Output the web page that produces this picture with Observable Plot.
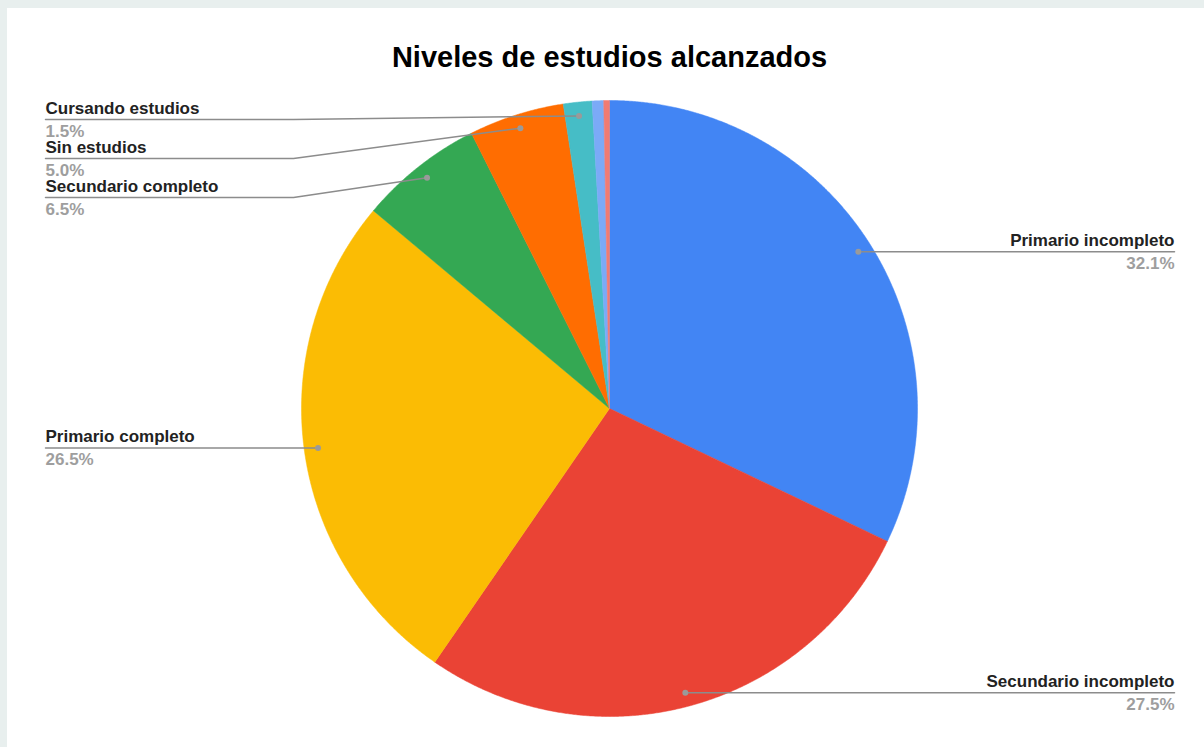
<!DOCTYPE html>
<html><head><meta charset="utf-8">
<script src="https://cdn.jsdelivr.net/npm/d3@7"></script>
<script src="https://cdn.jsdelivr.net/npm/@observablehq/plot@0.6"></script>
<style>
html,body{margin:0;padding:0;background:#e8efee;width:1204px;height:747px;overflow:hidden}
#chart{position:absolute;left:7px;top:8px;width:1197px;height:739px;background:#fff}
#chart svg{display:block}
</style></head><body><div id="chart"></div>
<script>
// ---- data ----
const titleText = "Niveles de estudios alcanzados";
const categories = ["Primario incompleto", "Secundario incompleto", "Primario completo", "Secundario completo", "Sin estudios", "Cursando estudios", "Terciario incompleto", "Terciario completo"];
const values = [32.1, 27.5, 26.5, 6.5, 5.0, 1.5, 0.6, 0.3];
const colors = ["#4285f4", "#ea4335", "#fbbc04", "#34a853", "#ff6d01", "#46bdc6", "#7baaf7", "#f07b72"];
const showLabel = [true, true, true, true, true, true, false, false];

// ---- layout (pixels in svg) ----
const W = 1197, H = 739;
const CX = 602, CY = 400, R = 308;
const px2x = p => (p - CX) / R;
const py2y = p => (CY - p) / R;

const total = d3.sum(values);
let acc = 0;
const slices = categories.map((name, i) => {
  const a0 = acc / total * 2 * Math.PI;
  acc += values[i];
  const a1 = acc / total * 2 * Math.PI;
  return {name, value: values[i], a0, a1, mid: (a0 + a1) / 2, pct: values[i] / total * 100, show: showLabel[i]};
});

// wedges
const wedgePts = [];
for (const s of slices) {
  wedgePts.push({name: s.name, x: 0, y: 0});
  const n = Math.max(2, Math.ceil((s.a1 - s.a0) / (Math.PI / 720)));
  for (let k = 0; k <= n; k++) {
    const a = s.a0 + (s.a1 - s.a0) * k / n;
    wedgePts.push({name: s.name, x: Math.sin(a), y: Math.cos(a)});
  }
  wedgePts.push({name: s.name, x: 0, y: 0});
}

// labels
const rDot = 0.955;
const labels = slices.filter(s => s.show).map(s => {
  const ptX = rDot * Math.sin(s.mid), ptY = rDot * Math.cos(s.mid);
  return {name: s.name, pctText: s.pct.toFixed(1) + "%", ptX, ptY, dotPy: CY - ptY * R, side: s.mid > Math.PI ? "left" : "right"};
});
function stack(list) {
  list.sort((a, b) => a.dotPy - b.dotPy);
  let prev = -Infinity;
  for (const l of list) {
    l.linePy = Math.max(l.dotPy, prev + 39, 111);
    prev = l.linePy;
  }
}
const leftL = labels.filter(l => l.side === "left");
const rightL = labels.filter(l => l.side === "right");
stack(leftL); stack(rightL);
for (const l of leftL) { l.endPx = 38; }
for (const l of rightL) { l.endPx = 1167; }

const leaderPts = [];
for (const l of labels) {
  leaderPts.push({name: l.name, x: l.ptX, y: l.ptY});
  if (l.side === "left" && Math.abs(l.linePy - l.dotPy) > 0.5) leaderPts.push({name: l.name, x: px2x(286), y: py2y(l.linePy)});
  leaderPts.push({name: l.name, x: px2x(l.endPx), y: py2y(l.linePy)});
}

const font = "'Liberation Sans', Arial, sans-serif";
function textMarks(list, anchor) {
  return [
    Plot.text(list, {x: d => px2x(d.endPx), y: d => py2y(d.linePy), text: "name", textAnchor: anchor, lineAnchor: "bottom", dy: -6, fontSize: 17, fontWeight: "bold", fill: "#222", fontFamily: font}),
    Plot.text(list, {x: d => px2x(d.endPx), y: d => py2y(d.linePy), text: "pctText", textAnchor: anchor, lineAnchor: "bottom", dy: 17, fontSize: 17, fontWeight: "bold", fill: "#9e9e9e", fontFamily: font})
  ];
}

const chart = Plot.plot({
  width: W, height: H, margin: 0,
  style: {background: "#fff", fontFamily: font},
  x: {domain: [px2x(0), px2x(W)], axis: null},
  y: {domain: [py2y(H), py2y(0)], axis: null},
  color: {domain: categories, range: colors},
  marks: [
    Plot.line(wedgePts, {x: "x", y: "y", z: "name", fill: "name", stroke: "name", strokeWidth: 0.5, curve: "linear"}),
    Plot.line(leaderPts, {x: "x", y: "y", z: "name", stroke: "#8c8c8c", strokeWidth: 1.5, curve: "linear"}),
    Plot.dot(labels, {x: "ptX", y: "ptY", r: 3, fill: "#9a9a9a", stroke: "none"}),
    ...textMarks(leftL, "start"),
    ...textMarks(rightL, "end"),
    Plot.text([titleText], {x: () => 0, y: () => py2y(58), text: d => d, textAnchor: "middle", lineAnchor: "bottom", fontSize: 29, fontWeight: "bold", fill: "#000", fontFamily: font})
  ]
});
document.getElementById("chart").appendChild(chart);
</script></body></html>
